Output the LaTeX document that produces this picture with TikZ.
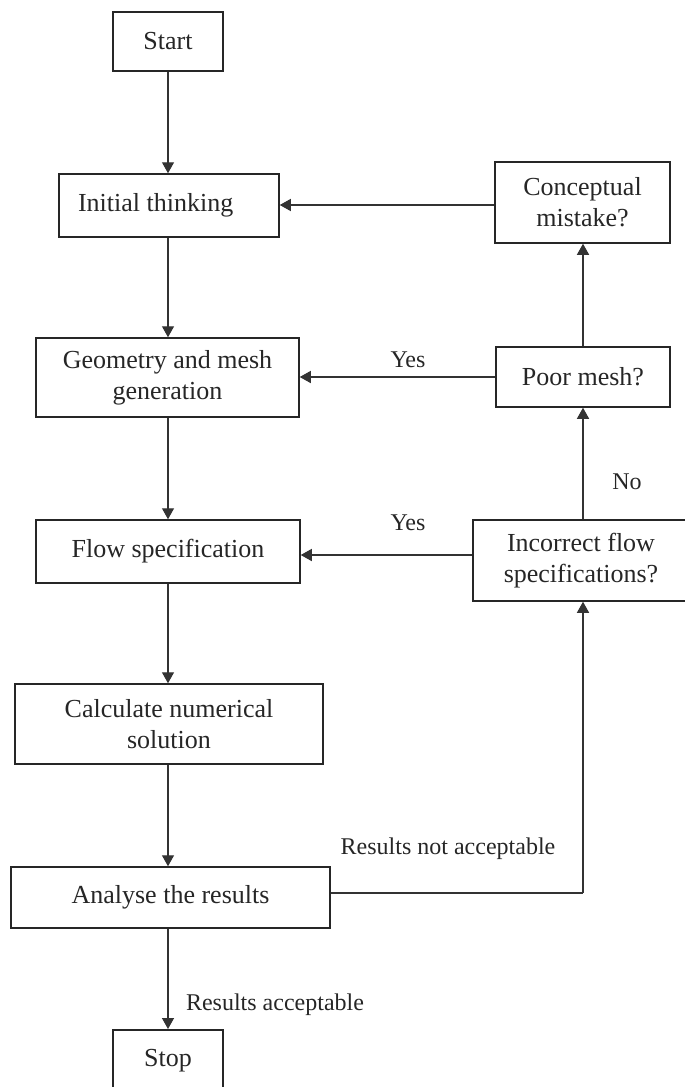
\documentclass[tikz,border=0pt]{standalone}
\usepackage{fontspec}
\setmainfont{Liberation Serif}
\usetikzlibrary{arrows.meta}
\begin{document}
\begin{tikzpicture}[x=1pt,y=-1pt,
  box/.style={draw=black!85, line width=1.5pt, rectangle, inner sep=0pt, align=center,
    font=\fontsize{26}{31}\selectfont, text=black!85},
  lab/.style={inner sep=0pt, font=\fontsize{24}{28}\selectfont, text=black!85},
  conn/.style={draw=black!80, line width=1.3pt, -{Triangle[length=11pt,width=12pt]}},
  plain/.style={draw=black!80, line width=1.3pt}]
\useasboundingbox (0,0) rectangle (685,1087);
% left column
\node[box, minimum width=110pt, minimum height=59pt] (start) at (168,41.5) {Start};
\node[box, minimum width=220pt, minimum height=63pt, text width=182pt, inner xsep=19pt, align=flush left] (init) at (169,205.5) {Initial thinking};
\node[box, minimum width=263pt, minimum height=79pt] (geo) at (167.5,377.5) {Geometry and mesh\\generation};
\node[box, minimum width=264pt, minimum height=63pt] (flow) at (168,551.5) {Flow specification};
\node[box, minimum width=308pt, minimum height=80pt] (calc) at (169,724) {Calculate numerical\\solution};
\node[box, minimum width=319pt, minimum height=61pt] (anal) at (170.5,897.5) {Analyse the results};
\node[box, minimum width=110pt, text height=37pt, text depth=34pt, anchor=north] (stop) at (168,1029) {Stop};
% right column
\node[box, minimum width=175pt, minimum height=81pt] (concept) at (582.5,202.5) {Conceptual\\mistake?};
\node[box, minimum width=174pt, minimum height=60pt] (poor) at (583,377) {Poor mesh?};
\node[box, minimum width=216pt, minimum height=81pt] (incorr) at (581,560.5) {Incorrect flow\\specifications?};
% main chain
\draw[conn] (start.south) -- (start.south |- init.north);
\draw[conn] (start.south |- init.south) -- (start.south |- geo.north);
\draw[conn] (start.south |- geo.south) -- (start.south |- flow.north);
\draw[conn] (start.south |- flow.south) -- (start.south |- calc.north);
\draw[conn] (start.south |- calc.south) -- (start.south |- anal.north);
\draw[conn] (start.south |- anal.south) -- (stop.north);
% feedback
\draw[conn] ([yshift=-2.5pt]concept.west) -- ([yshift=-2.5pt]concept.west -| init.east);
\draw[conn] (poor.west) -- (poor.west -| geo.east);
\draw[conn] ([yshift=5.5pt]incorr.west) -- ([yshift=5.5pt]incorr.west -| flow.east);
\draw[conn] (poor.north -| 583,0) -- (concept.south -| 583,0);
\draw[conn] (incorr.north -| 583,0) -- (poor.south -| 583,0);
\coordinate (corner) at (583,893);
\draw[plain] (anal.east |- corner) -- (corner);
\draw[conn] (corner) -- (incorr.south -| corner);
% labels
\node[lab] (yes1) at (408,360) {Yes};
\node[lab] (yes2) at (408,523) {Yes};
\node[lab] (no) at (627,482) {No};
\node[lab] (rna) at (448,849) {Results not acceptable};
\node[lab] (ra) at (275,1005) {Results acceptable};
\end{tikzpicture}
\end{document}
